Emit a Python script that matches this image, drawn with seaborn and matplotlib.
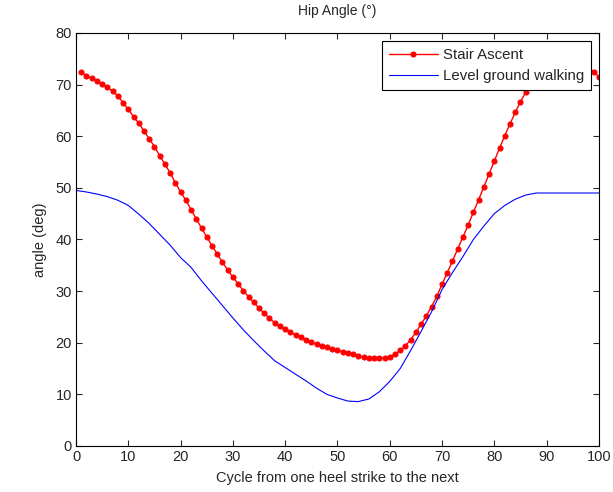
import numpy as np
import pandas as pd
import matplotlib
matplotlib.use("Agg")
import matplotlib.pyplot as plt
import seaborn as sns

# stair ascent, one sample per percent of cycle (1..100)
stair_x = list(range(1, 101))
stair_angle = [
    72.4, 71.7, 71.2, 70.7, 70.1, 69.5, 68.7, 67.8, 66.5, 65.2,
    63.8, 62.5, 61.0, 59.5, 58.0, 56.2, 54.6, 52.9, 51.0, 49.2,
    47.6, 45.8, 44.0, 42.2, 40.5, 38.8, 37.2, 35.6, 34.1, 32.7,
    31.4, 30.1, 28.9, 27.8, 26.7, 25.7, 24.7, 23.9, 23.2, 22.6,
    22.0, 21.5, 21.1, 20.6, 20.1, 19.7, 19.3, 19.1, 18.8, 18.5,
    18.3, 18.1, 17.8, 17.5, 17.2, 17.0, 17.0, 17.0, 17.0, 17.3,
    17.8, 18.5, 19.4, 20.6, 22.0, 23.6, 25.2, 27.0, 29.0, 31.3,
    33.6, 35.8, 38.2, 40.5, 42.8, 45.3, 47.7, 50.2, 52.7, 55.2,
    57.7, 60.1, 62.4, 64.6, 66.7, 68.5, 70.2, 71.6, 72.8, 73.8,
    74.5, 75.0, 75.3, 75.3, 75.1, 74.7, 74.1, 73.3, 72.5, 71.5,
]

# level ground walking
level_x = [0, 2, 4, 6, 8, 10, 12, 14, 16, 18, 20, 22, 24, 26, 28, 30,
           32, 34, 36, 38, 40, 42, 44, 46, 48, 50, 52, 54, 56, 58, 60,
           62, 64, 66, 68, 70, 72, 74, 76, 78, 80, 82, 84, 86, 88, 90,
           92, 94, 96, 98, 100]
level_angle = [49.5, 49.2, 48.8, 48.3, 47.6, 46.6, 44.9, 43.1, 41.0, 38.9,
               36.5, 34.6, 32.0, 29.6, 27.2, 24.8, 22.5, 20.4, 18.4, 16.5,
               15.2, 13.9, 12.6, 11.2, 10.0, 9.3, 8.7, 8.6, 9.1, 10.5,
               12.5, 15.0, 18.5, 22.2, 26.0, 30.3, 33.6, 36.7, 40.0, 42.6,
               45.0, 46.6, 47.8, 48.6, 49.0, 49.0, 49.0, 49.0, 49.0, 49.0,
               49.0]

sns.set_style("ticks")
plt.rcParams["font.family"] = ["Liberation Sans", "DejaVu Sans"]
plt.rcParams["xtick.direction"] = "in"
plt.rcParams["ytick.direction"] = "in"

fig = plt.figure(figsize=(6.13, 4.92), dpi=100)
ax = fig.add_axes([0.124, 0.0935, 0.853, 0.8395])

sns.lineplot(x=stair_x, y=stair_angle, ax=ax, color="#ff0000", lw=1.0,
             marker="o", markersize=3.6, markeredgewidth=0.8, markeredgecolor="#ff0000",
             label="Stair Ascent")
sns.lineplot(x=level_x, y=level_angle, ax=ax, color="#0000ff", lw=0.8,
             label="Level ground walking")

ax.set_xlim(0, 100)
ax.set_ylim(0, 80)
ax.set_xticks(range(0, 101, 10))
ax.set_yticks(range(0, 81, 10))
ax.tick_params(top=True, right=True, labelsize=10.5, length=4, width=0.8, pad=3)
for s in ax.spines.values():
    s.set_linewidth(0.8)
    s.set_color("black")

ax.set_title("Hip Angle (°)", fontsize=10, pad=13)
ax.set_xlabel("Cycle from one heel strike to the next", fontsize=10.5, labelpad=5)
ax.set_ylabel("angle (deg)", fontsize=10.5, labelpad=6)

leg = ax.legend(loc="upper right", fontsize=10.8, frameon=True, fancybox=False,
                edgecolor="black", framealpha=1, handlelength=3.3, handletextpad=0.3,
                borderaxespad=0.55, borderpad=0.45, labelspacing=0.5)
leg.get_frame().set_linewidth(0.8)

fig.savefig("out.png", dpi=100)
